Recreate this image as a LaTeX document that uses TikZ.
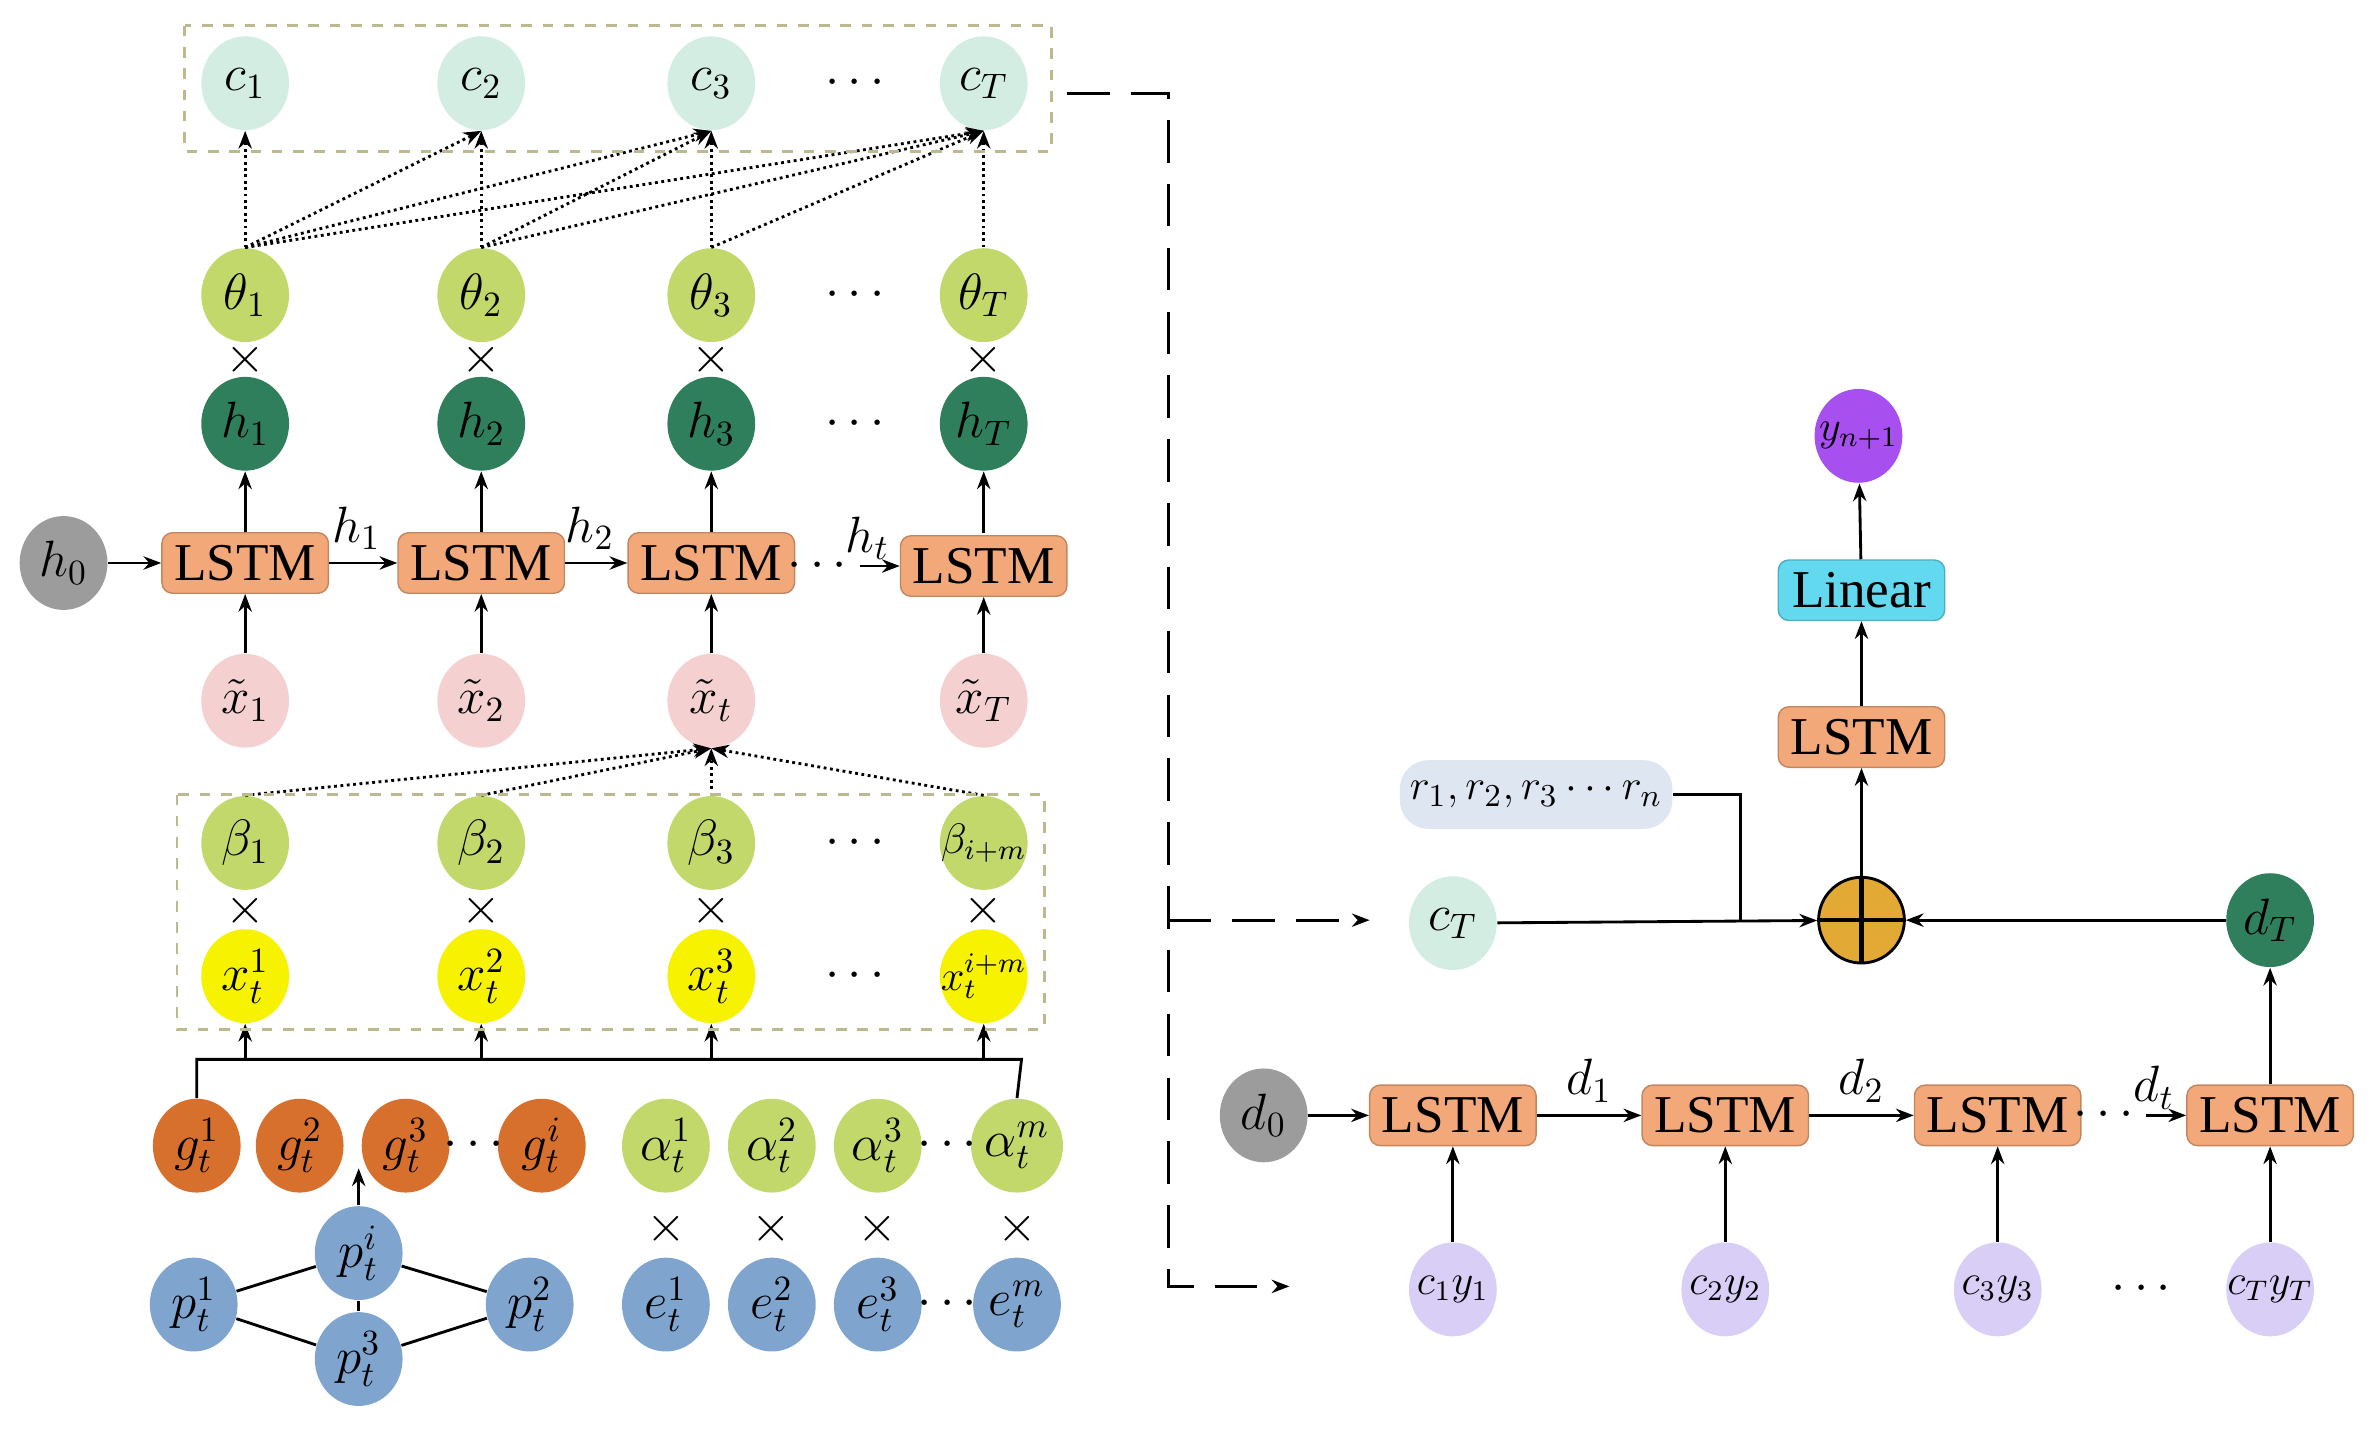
\documentclass[tikz,border=0pt]{standalone}
\usepackage{fontspec}
\setmainfont{Liberation Serif}
\usetikzlibrary{positioning}
\usetikzlibrary{shapes.geometric}
\usetikzlibrary{arrows.meta}

\definecolor{cmint}{HTML}{D3EDE3}
\definecolor{ctheta}{HTML}{C3D86A}
\definecolor{chid}{HTML}{2F7E5C}
\definecolor{clstm}{HTML}{F2A878}
\definecolor{cpink}{HTML}{F4D0D0}
\definecolor{cyel}{HTML}{F6F200}
\definecolor{corg}{HTML}{D6702C}
\definecolor{cblue}{HTML}{7FA4CE}
\definecolor{cgray}{HTML}{9C9C9C}
\definecolor{clav}{HTML}{D8CEF6}
\definecolor{cpur}{HTML}{A84FF0}
\definecolor{ccyan}{HTML}{62D9EF}
\definecolor{crbox}{HTML}{DDE6F1}
\definecolor{cplus}{HTML}{E2A935}

\tikzset{
  ball/.style={ellipse, minimum width=0.87cm, minimum height=0.93cm, inner sep=0pt, font=\fontsize{14}{16}\selectfont},
  tight/.style={inner sep=-7pt, font=\fontsize{12}{14}\selectfont},
  cell/.style={rectangle, rounded corners=3pt, fill=clstm, draw=clstm!80!black, minimum width=1.65cm, minimum height=0.6cm, inner sep=1pt, font=\fontsize{15}{17}\selectfont},
  arr/.style={-{Stealth[length=5pt]}, thick},
  dotarr/.style={-{Stealth[length=5pt]}, densely dotted, thick},
  group/.style={dashed, draw=gray!60!olive!60, thick},
  lab/.style={font=\fontsize{14}{16}\selectfont}
}

\begin{document}
\begin{tikzpicture}[x=0.015cm, y=-0.015cm]
\useasboundingbox (0,0) rectangle (1568,950);
% encoder columns
\foreach \i/\x in {1/162, 2/318, 3/470, T/650} {
  \node[ball, fill=cmint] (c\i) at (\x,55) {$c_{\i}$};
  \node[ball, fill=ctheta] (th\i) at (\x,195) {$\theta_{\i}$};
  \node[lab] (m\i) at (\x,238) {$\times$};
  \node[ball, fill=chid] (h\i) at (\x,280) {$h_{\i}$};
  \draw[arr] (\x,352) -- (h\i);
}
\foreach \y in {55,195,280} \node[lab] at (565,\y) {$\cdots$};
\node[cell] (L1) at (162,372) {LSTM};
\node[cell] (L2) at (318,372) {LSTM};
\node[cell] (L3) at (470,372) {LSTM};
\node[cell] (LT) at (650,374) {LSTM};
\node[ball, fill=cgray] (h0) at (42,372) {$h_0$};
\node[ball, fill=cpink] (xt1) at (162,463) {$\tilde{x}_1$};
\node[ball, fill=cpink] (xt2) at (318,463) {$\tilde{x}_2$};
\node[ball, fill=cpink] (xt3) at (470,463) {$\tilde{x}_t$};
\node[ball, fill=cpink] (xtT) at (650,463) {$\tilde{x}_T$};
\draw[arr] (h0) -- (L1);
\draw[arr] (L1) -- node[lab, above, pos=0.4] {$h_1$} (L2);
\draw[arr] (L2) -- node[lab, above, pos=0.4] {$h_2$} (L3);
\node[lab] (hd) at (540,374) {$\cdots$};
\draw[arr] (hd) -- node[lab, above=-2pt, pos=0.2] {$h_t$} (LT);
\draw[arr] (xt1) -- (L1);
\draw[arr] (xt2) -- (L2);
\draw[arr] (xt3) -- (L3);
\draw[arr] (xtT) -- (LT);
% attention on hidden states
\draw[dotarr] (th1.north) -- (c1.south);
\draw[dotarr] (th1.north) -- (c2.south);
\draw[dotarr] (th1.north) -- (c3.south);
\draw[dotarr] (th1.north) -- (cT.south);
\draw[dotarr] (th2.north) -- (c2.south);
\draw[dotarr] (th2.north) -- (c3.south);
\draw[dotarr] (th2.north) -- (cT.south);
\draw[dotarr] (th3.north) -- (c3.south);
\draw[dotarr] (th3.north) -- (cT.south);
\draw[dotarr] (thT.north) -- (cT.south);
\draw[group] (122,17) rectangle (695,100);
% input attention
\foreach \i/\x/\s in {1/162/1, 2/318/2, 3/470/3} {
  \node[ball, fill=ctheta] (b\i) at (\x,557) {$\beta_{\s}$};
  \node[lab] at (\x,602) {$\times$};
  \node[ball, fill=cyel] (x\i) at (\x,645) {$x_t^{\s}$};
}
\node[ball, tight, fill=ctheta] (bT) at (650,557) {$\beta_{i+m}$};
\node[lab] at (650,602) {$\times$};
\node[ball, tight, fill=cyel] (xT) at (650,645) {$x_t^{i+m}$};
\foreach \i/\x in {1/162, 2/318, 3/470, T/650} {
  \draw[arr] (\x,700) -- (x\i);
  \draw[dotarr] (b\i.north) -- (xt3.south);
}
\node[lab] at (565,557) {$\cdots$};
\node[lab] at (565,645) {$\cdots$};
\draw[group] (117,525) rectangle (690,680);
% features
\node[ball, fill=corg] (g1) at (130,757) {$g_t^1$};
\node[ball, fill=corg] (g2) at (198,757) {$g_t^2$};
\node[ball, fill=corg] (g3) at (268,757) {$g_t^3$};
\node[ball, fill=corg] (gi) at (358,757) {$g_t^i$};
\node[lab] at (313,757) {$\cdots$};
\foreach \i/\x/\s in {1/440/1, 2/510/2, 3/580/3, m/672/m} {
  \node[ball, fill=ctheta] (a\i) at (\x,757) {$\alpha_t^{\s}$};
  \node[lab] at (\x,812) {$\times$};
  \node[ball, fill=cblue] (e\i) at (\x,862) {$e_t^{\s}$};
}
\node[lab] at (626,757) {$\cdots$};
\node[lab] at (626,862) {$\cdots$};
\draw[thick] (g1.north) -- (130,700) -- (675,700) -- (am.north);
\node[ball, fill=cblue] (p1) at (128,862) {$p_t^1$};
\node[ball, fill=cblue] (pi) at (237,828) {$p_t^i$};
\node[ball, fill=cblue] (p2) at (350,862) {$p_t^2$};
\node[ball, fill=cblue] (p3) at (237,898) {$p_t^3$};
\draw[thick] (p1) -- (pi) -- (p2) -- (p3) -- (p1);
\draw[thick] (pi) -- (p3);
\draw[arr] (pi) -- (237,772);
% link to decoder
\draw[arr, dash pattern=on 12pt off 6pt] (705,62) -- (772,62) -- (772,850) -- (852,850);
\draw[arr, dash pattern=on 12pt off 6pt] (772,608) -- (905,608);
% decoder
\node[ball, fill=cmint] (cTd) at (960,610) {$c_T$};
\node[circle, fill=cplus, draw, thick, minimum size=0.85cm] (plus) at (1230,608) {};
\draw[very thick] (plus.north) -- (plus.south) (plus.west) -- (plus.east);
\node[rectangle, rounded corners=8pt, fill=crbox, minimum width=2.7cm, minimum height=0.68cm, inner sep=1pt, font=\fontsize{13}{15}\selectfont] (r) at (1015,525) {$r_1,r_2,r_3\cdots r_n$};
\node[cell] (Ld) at (1230,487) {LSTM};
\node[cell, fill=ccyan, draw=ccyan!80!black] (lin) at (1230,390) {Linear};
\node[ball, tight, fill=cpur] (y) at (1228,288) {$y_{n+1}$};
\node[ball, fill=chid] (dT) at (1500,608) {$d_T$};
\draw[arr] (cTd) -- (plus);
\draw[thick] (r.east) -- (1150,525) -- (1150,608);
\draw[arr] (dT) -- (plus);
\draw[arr] (plus) -- (Ld);
\draw[arr] (Ld) -- (lin);
\draw[arr] (lin) -- (y);
\node[ball, fill=cgray] (d0) at (835,737) {$d_0$};
\foreach \i/\x/\s in {1/960/{c_1y_1}, 2/1140/{c_2y_2}, 3/1320/{c_3y_3}, 4/1500/{c_Ty_T}} {
  \node[cell] (D\i) at (\x,737) {LSTM};
  \node[ball, tight, fill=clav] (cy\i) at (\x,852) {$\s$};
  \draw[arr] (cy\i) -- (D\i);
}
\node[lab] at (1415,852) {$\cdots$};
\draw[arr] (d0) -- (D1);
\draw[arr] (D1) -- node[lab, above] {$d_1$} (D2);
\draw[arr] (D2) -- node[lab, above] {$d_2$} (D3);
\node[lab] (dd) at (1390,737) {$\cdots$};
\draw[arr] (dd) -- node[lab, above=-2pt, pos=0.2] {$d_t$} (D4);
\draw[arr] (D4) -- (dT);
\end{tikzpicture}
\end{document}
